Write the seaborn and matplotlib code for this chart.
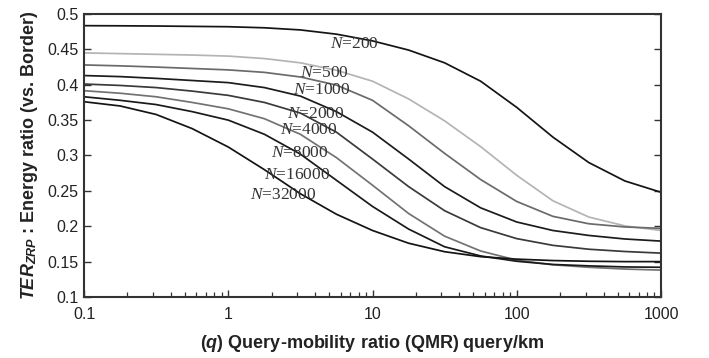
import numpy as np
import pandas as pd
import matplotlib
matplotlib.use("Agg")
import matplotlib.pyplot as plt
import seaborn as sns

# Query-mobility ratio sample points (query/km)
qmr = [0.1, 0.178, 0.316, 0.562, 1.0, 1.78, 3.16, 5.62, 10.0, 17.8, 31.6,
       56.2, 100.0, 178.0, 316.0, 562.0, 1000.0]

# Energy ratio TER_ZRP vs. Border for each network size N
ter_200 = [0.4835, 0.4833, 0.483, 0.4825, 0.482, 0.4805, 0.4775, 0.4715,
           0.462, 0.449, 0.431, 0.405, 0.368, 0.326, 0.290, 0.264, 0.248]
ter_500 = [0.445, 0.444, 0.443, 0.442, 0.4405, 0.437, 0.431, 0.4205,
           0.405, 0.380, 0.349, 0.3125, 0.272, 0.236, 0.213, 0.2005, 0.194]
ter_1000 = [0.428, 0.4267, 0.425, 0.423, 0.421, 0.4175, 0.411, 0.3995,
            0.378, 0.342, 0.303, 0.266, 0.235, 0.214, 0.2035, 0.199, 0.197]
ter_2000 = [0.413, 0.4115, 0.409, 0.406, 0.403, 0.396, 0.384, 0.362,
            0.333, 0.295, 0.256, 0.226, 0.206, 0.194, 0.187, 0.182, 0.179]
ter_4000 = [0.401, 0.399, 0.396, 0.391, 0.385, 0.375, 0.360, 0.333,
            0.295, 0.256, 0.222, 0.198, 0.1825, 0.173, 0.1675, 0.1643, 0.162]
ter_8000 = [0.3916, 0.388, 0.383, 0.375, 0.366, 0.352, 0.330, 0.297,
            0.258, 0.218, 0.186, 0.165, 0.152, 0.1455, 0.142, 0.1395, 0.138]
ter_16000 = [0.383, 0.378, 0.372, 0.362, 0.350, 0.330, 0.302, 0.265,
             0.228, 0.196, 0.171, 0.158, 0.1505, 0.146, 0.144, 0.1425, 0.142]
ter_32000 = [0.376, 0.370, 0.358, 0.338, 0.312, 0.280, 0.246, 0.217,
             0.194, 0.176, 0.164, 0.157, 0.1535, 0.1515, 0.1505, 0.150, 0.150]

sizes = ["200", "500", "1000", "2000", "4000", "8000", "16000", "32000"]
series = [ter_200, ter_500, ter_1000, ter_2000, ter_4000, ter_8000,
          ter_16000, ter_32000]
line_colors = ["#141414", "#b4b4b4", "#6a6a6a", "#1c1c1c", "#3a3a3a",
               "#727272", "#1a1a1a", "#141414"]

# Curve labels (q position, ratio position)
label_q = [7.44, 4.61, 4.47, 4.06, 3.63, 3.14, 3.0, 2.40]
label_ter = [0.4576, 0.4173, 0.3926, 0.3587, 0.336, 0.3035, 0.2724, 0.2442]

xtick_vals = [0.1, 1, 10, 100, 1000]
xtick_text = ["0.1", "1", "10", "100", "1000"]
ytick_vals = [0.1, 0.15, 0.2, 0.25, 0.3, 0.35, 0.4, 0.45, 0.5]
ytick_text = ["0.1", "0.15", "0.2", "0.25", "0.3", "0.35", "0.4", "0.45", "0.5"]

df = pd.DataFrame({
    "q": np.tile(qmr, len(sizes)),
    "ter": np.concatenate(series),
    "N": np.repeat(sizes, len(qmr)),
})

sns.set_style("white")
plt.rcParams["font.family"] = ["Liberation Sans", "DejaVu Sans"]
plt.rcParams["mathtext.fontset"] = "custom"
plt.rcParams["mathtext.rm"] = "Liberation Serif"
plt.rcParams["mathtext.it"] = "Liberation Serif:italic"
plt.rcParams["mathtext.bf"] = "Liberation Sans:bold"
plt.rcParams["mathtext.bfit"] = "Liberation Sans:italic:bold"

fig = plt.figure(figsize=(7.09, 3.58), dpi=100)
ax = fig.add_axes([0.1185, 0.1704, 0.8138, 0.7905])

sns.lineplot(data=df, x="q", y="ter", hue="N", hue_order=sizes,
             palette=dict(zip(sizes, line_colors)), linewidth=1.25,
             legend=False, ax=ax, estimator=None, sort=False)

ax.set_xscale("log")
ax.set_xlim(0.1, 1000)
ax.set_ylim(0.1, 0.5)
ax.set_xticks(xtick_vals)
ax.set_xticklabels(xtick_text)
ax.set_yticks(ytick_vals)
ax.set_yticklabels(ytick_text)
ax.yaxis.set_minor_locator(matplotlib.ticker.NullLocator())
ax.xaxis.set_minor_locator(matplotlib.ticker.LogLocator(base=10, subs=np.arange(2, 10)))
ax.xaxis.set_minor_formatter(matplotlib.ticker.NullFormatter())

ax.tick_params(axis="both", which="both", direction="in", colors="#333333",
               labelcolor="#222222", labelsize=11.5)
ax.tick_params(axis="x", which="both", bottom=True, top=False, pad=7)
ax.tick_params(axis="y", which="both", left=True, right=True, pad=4)
ax.tick_params(which="major", length=5, width=1.0)
ax.tick_params(which="minor", length=3.5, width=0.9)

for side in ["left", "right", "top", "bottom"]:
    ax.spines[side].set_visible(True)
    ax.spines[side].set_color("#333333")
    ax.spines[side].set_linewidth(1.5)

for n, lq, lt in zip(sizes, label_q, label_ter):
    ax.text(lq, lt, r"$N$=" + n, ha="center", va="center", fontsize=12.5,
            family="Liberation Serif", color="#333333")

ax.set_xlabel(r"($\mathbfit{q}$) Query-mobility ratio (QMR) query/km",
              fontsize=13, fontweight="bold", color="#222222", labelpad=8)
ax.set_ylabel(r"$\mathbfit{TER}_{\mathbfit{ZRP}}$ : Energy ratio (vs. Border)",
              fontsize=13, fontweight="bold", color="#222222", labelpad=5)

fig.savefig("out.png", dpi=100)
